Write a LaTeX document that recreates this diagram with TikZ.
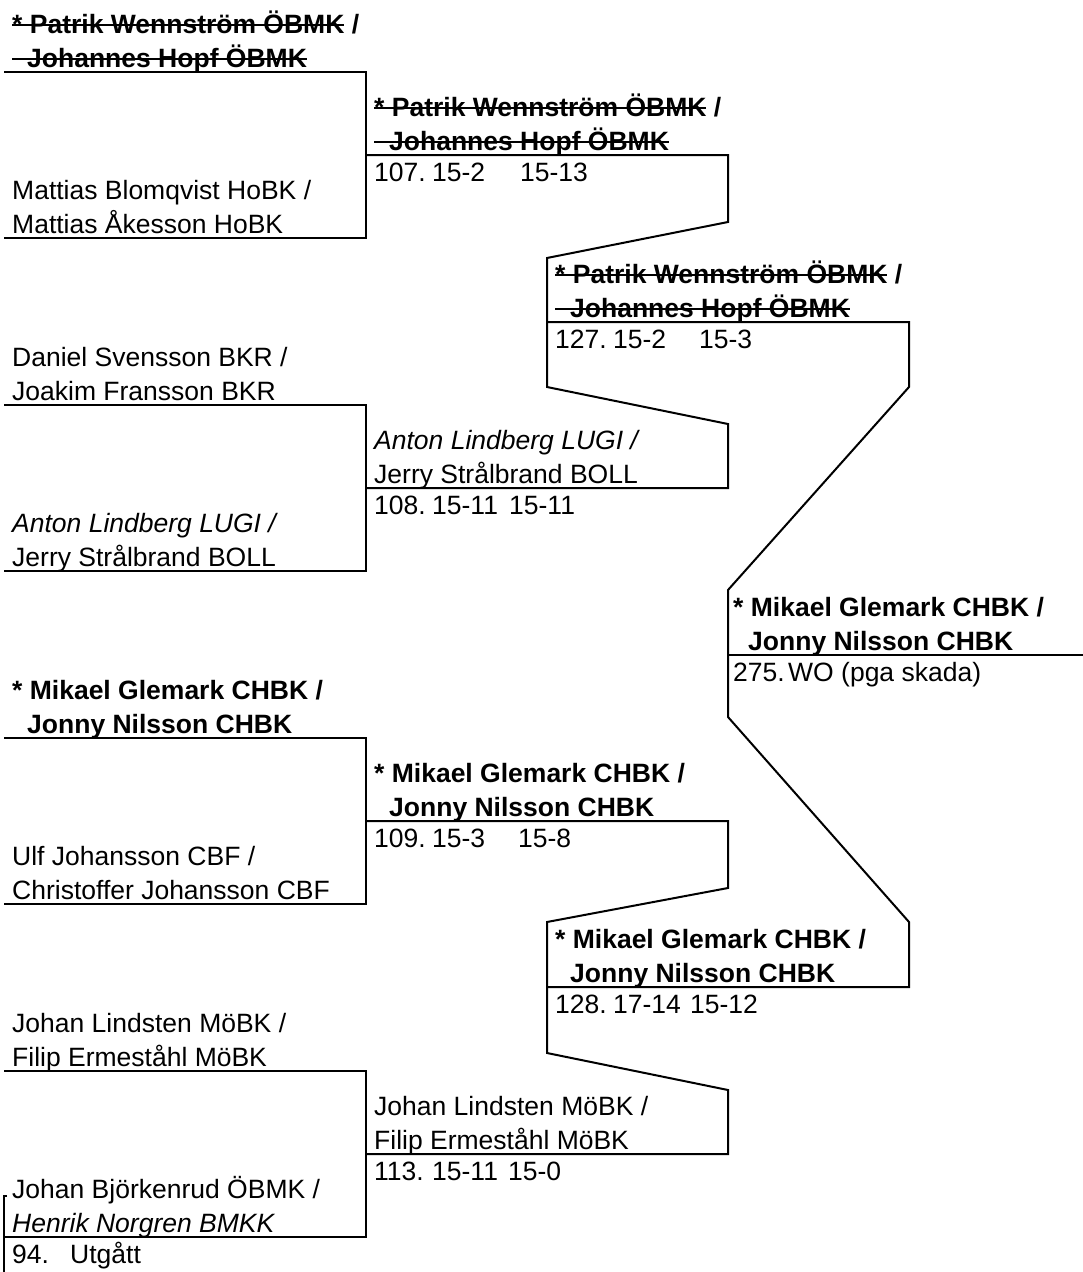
\documentclass[tikz,border=0pt]{standalone}
\usepackage{fontspec}
\setmainfont{Liberation Sans}

\newsavebox{\strikebox}
\newcommand{\strikeout}[1]{\sbox{\strikebox}{#1}%
  \rlap{\rule[7pt]{\wd\strikebox}{2pt}}\usebox{\strikebox}}
\newcommand{\plfont}{\fontsize{26.5}{32}\selectfont}
\newcommand{\indentpl}{\hspace*{15pt}}
\tikzset{
  player/.style={anchor=base west,inner sep=0pt,font=\plfont},
  winner/.style={player,font=\plfont\bfseries},
  result/.style={player},
  bracket/.style={line width=2pt}
}

\begin{document}
\begin{tikzpicture}[x=1pt,y=-1pt]
    \useasboundingbox (0,0) rectangle (1083,1272);

    % first round
    \node[winner] (A1) at (12,33) {\strikeout{* Patrik Wennström ÖBMK} /};
    \node[winner] (A2) at (12,67) {\strikeout{\indentpl Johannes Hopf ÖBMK}};
    \node[player] (B1) at (12,199) {Mattias Blomqvist HoBK /};
    \node[player] (B2) at (12,233) {Mattias Åkesson HoBK};
    \node[player] (C1) at (12,366) {Daniel Svensson BKR /};
    \node[player] (C2) at (12,400) {Joakim Fransson BKR};
    \node[player] (D1) at (12,532) {\textit{Anton Lindberg LUGI /}};
    \node[player] (D2) at (12,566) {Jerry Strålbrand BOLL};
    \node[winner] (E1) at (12,699) {* Mikael Glemark CHBK /};
    \node[winner] (E2) at (12,733) {\indentpl Jonny Nilsson CHBK};
    \node[player] (F1) at (12,865) {Ulf Johansson CBF /};
    \node[player] (F2) at (12,899) {Christoffer Johansson CBF};
    \node[player] (G1) at (12,1032) {Johan Lindsten MöBK /};
    \node[player] (G2) at (12,1066) {Filip Ermeståhl MöBK};
    \node[player] (H1) at (12,1198) {Johan Björkenrud ÖBMK /};
    \node[player] (H2) at (12,1232) {\textit{Henrik Norgren BMKK}};
    \node[result] (H3) at (12,1263) {\makebox[58pt][l]{94.}Utgått};

    \draw[bracket] (4,72) -- (366,72) -- (366,238) -- (4,238);
    \draw[bracket] (4,405) -- (366,405) -- (366,571) -- (4,571);
    \draw[bracket] (4,738) -- (366,738) -- (366,904) -- (4,904);
    \draw[bracket] (4,1071) -- (366,1071) -- (366,1237) -- (4,1237);
    \draw[bracket] (7,1196) -- (4,1196) -- (4,1272);

    % second round
    \node[winner] (AB1) at (374,116) {\strikeout{* Patrik Wennström ÖBMK} /};
    \node[winner] (AB2) at (374,150) {\strikeout{\indentpl Johannes Hopf ÖBMK}};
    \node[result] (AB3) at (374,181) {\makebox[58pt][l]{107.}\makebox[88pt][l]{15-2}15-13};
    \node[player] (CD1) at (374,449) {\textit{Anton Lindberg LUGI /}};
    \node[player] (CD2) at (374,483) {Jerry Strålbrand BOLL};
    \node[result] (CD3) at (374,514) {\makebox[58pt][l]{108.}\makebox[77pt][l]{15-11}15-11};
    \node[winner] (EF1) at (374,782) {* Mikael Glemark CHBK /};
    \node[winner] (EF2) at (374,816) {\indentpl Jonny Nilsson CHBK};
    \node[result] (EF3) at (374,847) {\makebox[58pt][l]{109.}\makebox[86pt][l]{15-3}15-8};
    \node[player] (GH1) at (374,1115) {Johan Lindsten MöBK /};
    \node[player] (GH2) at (374,1149) {Filip Ermeståhl MöBK};
    \node[result] (GH3) at (374,1180) {\makebox[58pt][l]{113.}\makebox[76pt][l]{15-11}15-0};

    \draw[bracket] (366,155) -- (728,155) -- (728,222) -- (547,258) -- (547,387)
        -- (728,424) -- (728,488) -- (366,488);
    \draw[bracket] (366,821) -- (728,821) -- (728,888) -- (547,922) -- (547,1053)
        -- (728,1090) -- (728,1154) -- (366,1154);

    % semifinals
    \node[winner] (AD1) at (555,283) {\strikeout{* Patrik Wennström ÖBMK} /};
    \node[winner] (AD2) at (555,317) {\strikeout{\indentpl Johannes Hopf ÖBMK}};
    \node[result] (AD3) at (555,348) {\makebox[58pt][l]{127.}\makebox[86pt][l]{15-2}15-3};
    \node[winner] (EH1) at (555,948) {* Mikael Glemark CHBK /};
    \node[winner] (EH2) at (555,982) {\indentpl Jonny Nilsson CHBK};
    \node[result] (EH3) at (555,1013) {\makebox[58pt][l]{128.}\makebox[77pt][l]{17-14}15-12};

    \draw[bracket] (547,322) -- (909,322) -- (909,387) -- (728,590) -- (728,717)
        -- (909,922) -- (909,987) -- (547,987);

    % final
    \node[winner] (W1) at (733,616) {* Mikael Glemark CHBK /};
    \node[winner] (W2) at (733,650) {\indentpl Jonny Nilsson CHBK};
    \node[result] (W3) at (733,681) {\makebox[55pt][l]{275.}WO (pga skada)};

    \draw[bracket] (728,655) -- (1083,655);
\end{tikzpicture}
\end{document}
